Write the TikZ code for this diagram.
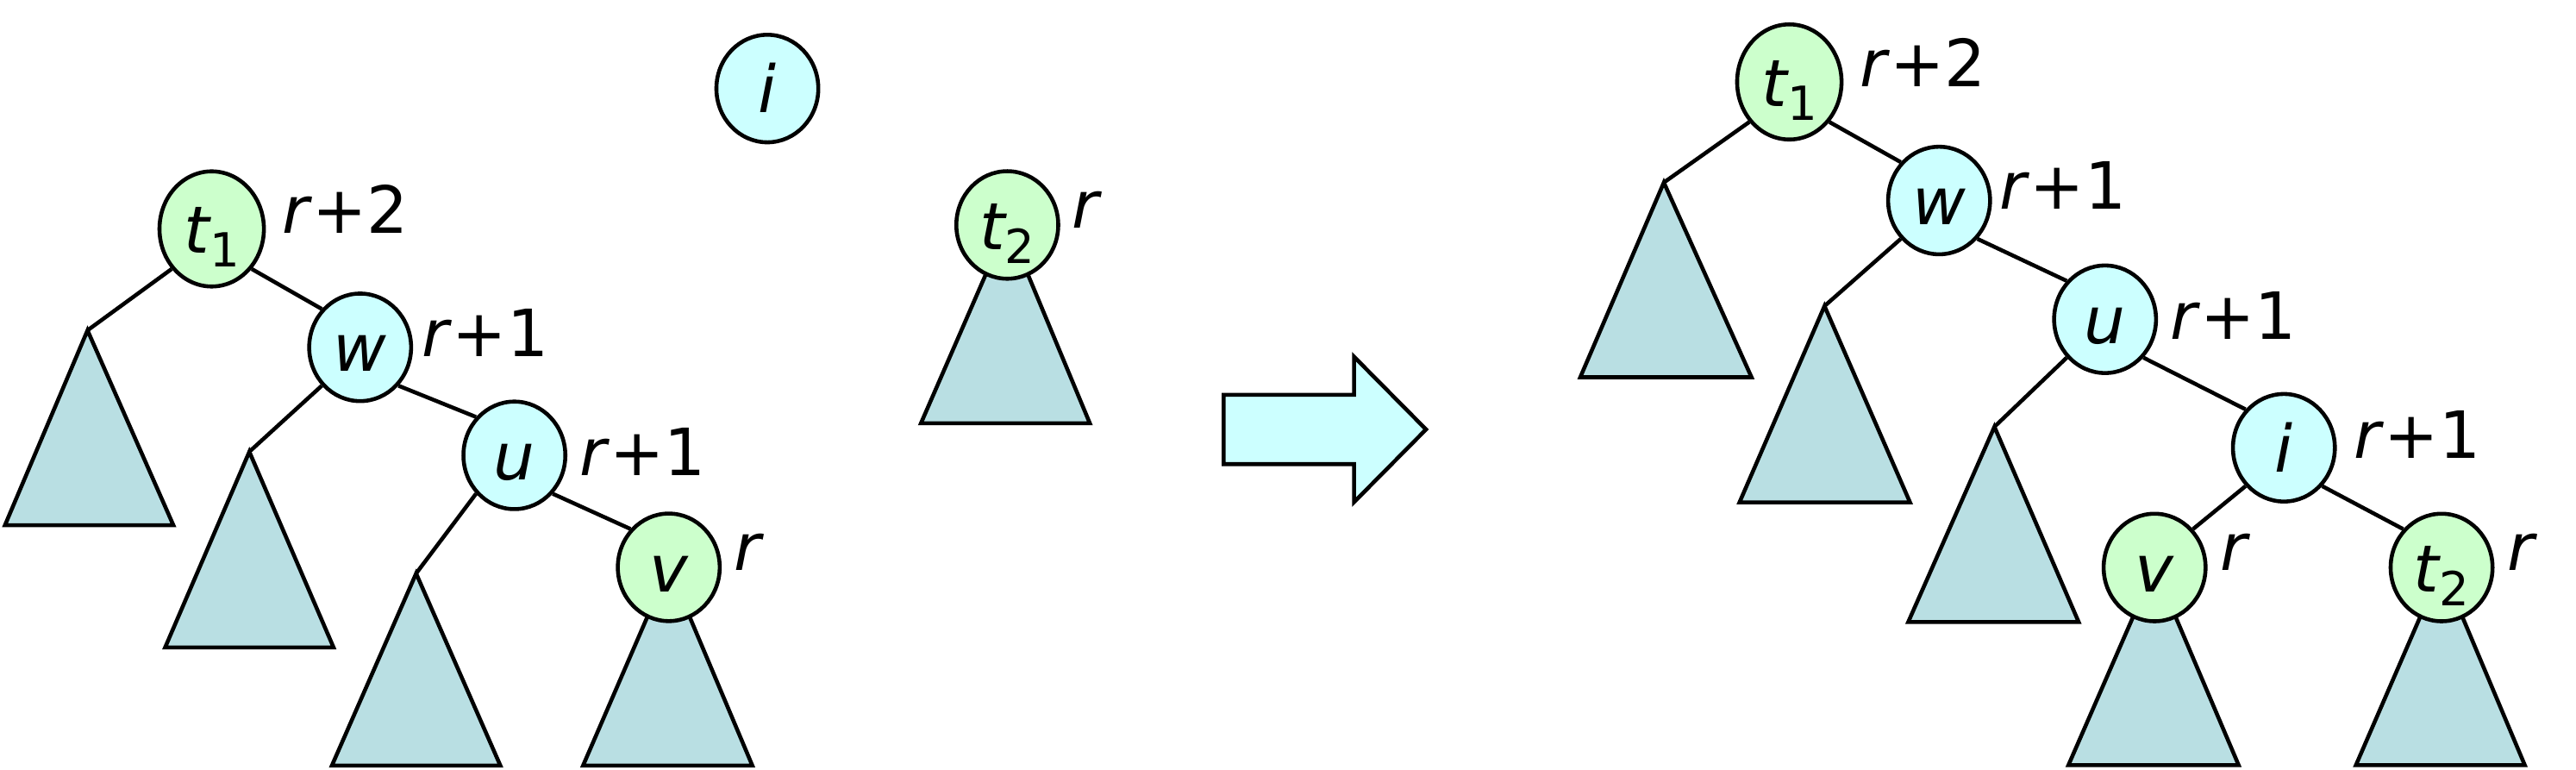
\documentclass[tikz,border=0pt]{standalone}
\usepackage{fontspec}
\setmainfont{DejaVu Sans}
\usetikzlibrary{shapes.geometric}
\definecolor{ngreen}{HTML}{CCFFCC}
\definecolor{ncyan}{HTML}{CCFFFF}
\definecolor{trifill}{HTML}{B9DFE3}
\newcommand\subidx[1]{\raisebox{-4.6pt}{\fontsize{15.5}{15.5}\selectfont\upshape #1}}
\begin{document}
\begin{tikzpicture}[x=0.019154cm, y=-0.019154cm, line width=1.3pt,
  tnode/.style={ellipse, draw=black, inner sep=0pt, minimum width=1.182cm, minimum height=1.247cm,
    text height=16pt, text depth=0pt, font=\fontsize{21.5}{21.5}\selectfont\itshape},
  gnode/.style={tnode, fill=ngreen},
  cnode/.style={tnode, fill=ncyan},
  tallnode/.style={minimum width=1.211cm, minimum height=1.335cm},
  lbl/.style={anchor=base west, inner sep=0pt, font=\fontsize{21.5}{21.5}\selectfont},
  subtree/.style={draw=black, fill=trifill, line join=miter},
  conn/.style={draw=black}
]
\useasboundingbox (0,0) rectangle (1560,466.2);

% ---------- left picture ----------
\coordinate (a1) at (53,200);
\coordinate (a2) at (151,273.5);
\coordinate (a3) at (252,347.2);
\coordinate (vac) at (405,343.5);
\coordinate (t2ac) at (610,136.2);

\draw[subtree] (a1) -- (3,318) -- (105,318) -- cycle;
\draw[subtree] (a2) -- (100,392) -- (202,392) -- cycle;
\draw[subtree] (a3) -- (201,463.5) -- (303,463.5) -- cycle;
\draw[subtree] (vac) -- (353.1,463.5) -- (455.6,463.5) -- cycle;
\draw[subtree] (t2ac) -- (557.7,256.3) -- (660,256.3) -- cycle;

\node[gnode, tallnode] (t1a) at (128.2,138.6) {t\subidx{1}};
\node[cnode] (wa) at (218.1,210.3) {w};
\node[cnode] (ua) at (311.5,275.7) {u};
\node[gnode] (va) at (vac) {v};
\node[cnode] (ia) at (464.7,53.6) {i};
\node[gnode] (t2a) at (t2ac) {t\subidx{2}};

\node[lbl] (lt1a) at (169.8,141) {\textit{r}+2};
\node[lbl] (lwa) at (254.5,215.8) {\textit{r}+1};
\node[lbl] (lua) at (349.8,288) {\textit{r}+1};
\node[lbl] (lva) at (443.5,345.4) {\textit{r}};
\node[lbl] (lt2a) at (648,138) {\textit{r}};

\draw[conn] (t1a.-135) -- (a1);
\draw[conn] (t1a.-45) -- (wa.135);
\draw[conn] (wa.-135) -- (a2);
\draw[conn] (wa.-45) -- (ua.135);
\draw[conn] (ua.-135) -- (a3);
\draw[conn] (ua.-45) -- (va.135);

% ---------- arrow ----------
\draw[fill=ncyan, line join=miter] (741,239) -- (820,239) -- (820,216) -- (863.6,260) -- (820,304) -- (820,281) -- (741,281) -- cycle;

% ---------- right picture ----------
\coordinate (b1) at (1007.6,110.5);
\coordinate (b2) at (1104.9,185.3);
\coordinate (b3) at (1207.8,258.4);
\coordinate (vbc) at (1304.8,343.6);
\coordinate (t2bc) at (1478.6,343.6);

\draw[subtree] (b1) -- (957,228.4) -- (1060.7,228.4) -- cycle;
\draw[subtree] (b2) -- (1053.4,304.2) -- (1156.7,304.2) -- cycle;
\draw[subtree] (b3) -- (1155.6,376.6) -- (1258.8,376.6) -- cycle;
\draw[subtree] (vbc) -- (1252.6,463.3) -- (1355.7,463.3) -- cycle;
\draw[subtree] (t2bc) -- (1426.7,463.3) -- (1529,463.3) -- cycle;

\node[gnode, tallnode] (t1b) at (1083.6,49.6) {t\subidx{1}};
\node[cnode] (wb) at (1174.3,121.4) {w};
\node[cnode] (ub) at (1274.8,193.3) {u};
\node[cnode] (ib) at (1383.1,271.1) {i};
\node[gnode] (vb) at (vbc) {v};
\node[gnode] (t2b) at (t2bc) {t\subidx{2}};

\node[lbl] (lt1b) at (1125,52.2) {\textit{r}+2};
\node[lbl] (lwb) at (1209.9,126.6) {\textit{r}+1};
\node[lbl] (lub) at (1313.1,205.3) {\textit{r}+1};
\node[lbl] (lib) at (1424.5,277.6) {\textit{r}+1};
\node[lbl] (lvb) at (1343.5,345.4) {\textit{r}};
\node[lbl] (lt2b) at (1517.2,345.4) {\textit{r}};

\draw[conn] (t1b.-135) -- (b1);
\draw[conn] (t1b.-45) -- (wb.135);
\draw[conn] (wb.-135) -- (b2);
\draw[conn] (wb.-45) -- (ub.135);
\draw[conn] (ub.-135) -- (b3);
\draw[conn] (ub.-45) -- (ib.135);
\draw[conn] (ib.-135) -- (vb.45);
\draw[conn] (ib.-45) -- (t2b.135);
\end{tikzpicture}
\end{document}
